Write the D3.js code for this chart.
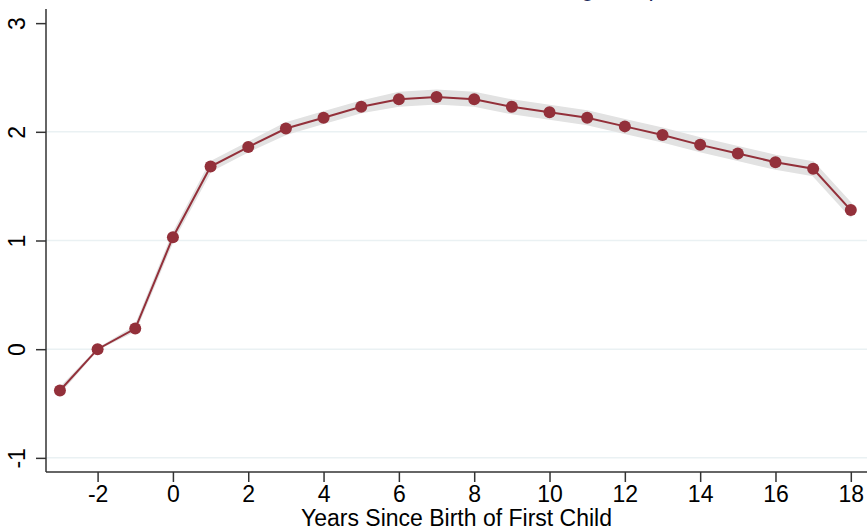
<!DOCTYPE html>
<html>
<head>
<meta charset="utf-8">
<script src="https://cdn.jsdelivr.net/npm/d3@7"></script>
<style>
body { margin:0; background:#fff; }
text { font-family: Arial, "Liberation Sans", sans-serif; }
</style>
</head>
<body>
<svg width="867" height="529"></svg>
<script>
var YEARS = [-3,-2,-1,0,1,2,3,4,5,6,7,8,9,10,11,12,13,14,15,16,17,18];
var EST   = [-0.38,0.0,0.19,1.03,1.68,1.86,2.03,2.13,2.23,2.30,2.32,2.30,2.23,2.18,2.13,2.05,1.97,1.88,1.80,1.72,1.66,1.28];
var CI_LO = [-0.40,0.0,0.17,1.00,1.64,1.82,1.98,2.08,2.18,2.24,2.26,2.24,2.17,2.12,2.07,1.99,1.91,1.82,1.74,1.66,1.60,1.22];
var CI_HI = [-0.36,0.0,0.21,1.06,1.72,1.90,2.08,2.18,2.28,2.36,2.38,2.36,2.29,2.24,2.19,2.11,2.03,1.94,1.86,1.78,1.72,1.34];
var X_TICKS = [-2,0,2,4,6,8,10,12,14,16,18];
var Y_TICKS = [-1,0,1,2,3];
var GRID = [-1,0,1,2];
var TITLE = "Gender Earnings Gap";
var X_LABEL = "Years Since Birth of First Child";

var svg = d3.select("svg");
var pLeft = 46, pRight = 867, pTop = 9, pBottom = 472; // plot box (don't use "top", it's window.top)

var x = d3.scaleLinear().domain([-3.37, 18.43]).range([pLeft, pRight]);
var y = d3.scaleLinear().domain([-1.13, 3.13]).range([pBottom, pTop]);

var pts = YEARS.map(function(d,i){ return {x:d, y:EST[i], lo:CI_LO[i], hi:CI_HI[i]}; });
var fmt = function(d){ return String(d); }; // plain hyphen minus like the original

// title, mostly cut off above the picture
svg.append("text")
	.attr("x", 416).attr("y", -4)
	.attr("fill", "#1c2a5a")
	.style("font-size", "23px")
	.style("letter-spacing", "1.2px")
	.text(TITLE);

// grid
svg.append("g").selectAll("line")
	.data(GRID).enter().append("line")
	.attr("x1", pLeft).attr("x2", pRight)
	.attr("y1", function(d){ return y(d); })
	.attr("y2", function(d){ return y(d); })
	.attr("stroke", "#eaf1f3").attr("stroke-width", 1.5);

// confidence band
var area = d3.area()
	.x(function(d){ return x(d.x); })
	.y0(function(d){ return y(d.lo); })
	.y1(function(d){ return y(d.hi); });
svg.append("path").datum(pts)
	.attr("d", area)
	.attr("fill", "#e2e2e2")
	.attr("stroke", "#e2e2e2").attr("stroke-width", 2).attr("stroke-linejoin", "round");

var line = d3.line()
	.x(function(d){ return x(d.x); })
	.y(function(d){ return y(d.y); });
svg.append("path").datum(pts)
	.attr("d", line)
	.attr("fill", "none")
	.attr("stroke", "#93303a").attr("stroke-width", 2);

svg.append("g").selectAll("circle")
	.data(pts).enter().append("circle")
	.attr("cx", function(d){ return x(d.x); })
	.attr("cy", function(d){ return y(d.y); })
	.attr("r", 6)
	.attr("fill", "#93303a");

// axes
var xAxis = svg.append("g")
	.attr("transform", "translate(0," + pBottom + ")")
	.call(d3.axisBottom(x).tickValues(X_TICKS).tickSize(10).tickPadding(4).tickFormat(fmt));
var yAxis = svg.append("g")
	.attr("transform", "translate(" + pLeft + ",0)")
	.call(d3.axisLeft(y).tickValues(Y_TICKS).tickSize(10).tickPadding(4).tickFormat(fmt));

[xAxis, yAxis].forEach(function(a){
	a.select(".domain").attr("d", null);
	a.selectAll(".tick line").attr("stroke", "#333").attr("stroke-width", 1.5);
	a.selectAll("text").attr("fill", "#000").style("font-size", "23px")
		.style("font-family", "Arial, 'Liberation Sans', sans-serif");
});
xAxis.selectAll("text").attr("y", 14).attr("dy", "0.71em");
yAxis.selectAll("text")
	.attr("x", null).attr("dy", null)
	.attr("text-anchor", "middle")
	.attr("transform", "translate(-21,0) rotate(-90)")
	.attr("y", 0);

svg.append("line")
	.attr("x1", pLeft).attr("x2", pRight).attr("y1", pBottom).attr("y2", pBottom)
	.attr("stroke", "#333").attr("stroke-width", 1.5);
svg.append("line")
	.attr("x1", pLeft).attr("x2", pLeft).attr("y1", pTop).attr("y2", pBottom)
	.attr("stroke", "#333").attr("stroke-width", 1.5);

svg.append("text")
	.attr("x", (pLeft + pRight) / 2).attr("y", 526)
	.attr("text-anchor", "middle")
	.attr("fill", "#000")
	.style("font-size", "23px")
	.text(X_LABEL);
</script>
</body>
</html>
